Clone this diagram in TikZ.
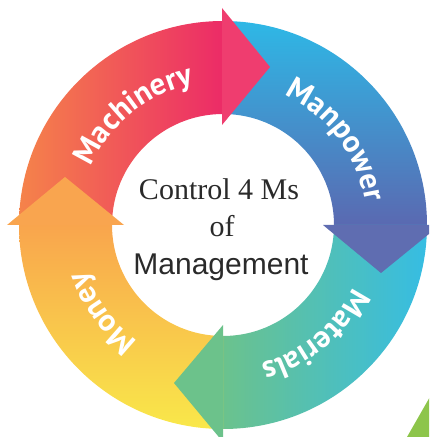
\documentclass[tikz,border=0pt]{standalone}
\usepackage{fontspec}
\setmainfont{Liberation Serif}
\newfontfamily\mgmtfont{Liberation Sans}
\newfontfamily\labfont{PT Sans}
\newcommand\labfmt{\labfont\bfseries\fontsize{31}{31}\selectfont}
\usetikzlibrary{decorations.text,calc}
\definecolor{machA}{HTML}{F5834A}
\definecolor{machB}{HTML}{EC2B67}
\definecolor{machH}{HTML}{EF3D6F}
\definecolor{manA}{HTML}{2EB8E6}
\definecolor{manB}{HTML}{5A69B1}
\definecolor{manH}{HTML}{5F6DB1}
\definecolor{matA}{HTML}{6BC28D}
\definecolor{matB}{HTML}{36BDE3}
\definecolor{matH}{HTML}{6CC28B}
\definecolor{monA}{HTML}{F9A54D}
\definecolor{monB}{HTML}{F9E84A}
\definecolor{monH}{HTML}{F9A54F}
\definecolor{leaf}{HTML}{8DC54B}
\definecolor{ink}{HTML}{2A2A2A}
\tikzset{
  ringlabel/.style={decorate, decoration={text along path, text align=center, text color=white,
    text={|\labfmt|#1}}},
}
\begin{document}
\begin{tikzpicture}[x=1pt,y=1pt]
\useasboundingbox (0,0) rectangle (429,437);
\clip (0,0) rectangle (429,437);
\coordinate (C) at (223,212);
% quarter rings
\shade[left color=machA, right color=machB]
  (19,212) arc[start angle=180, end angle=90, radius=204] -- (223,323)
  arc[start angle=90, end angle=180, radius=111] -- cycle;
\shade[top color=manA, bottom color=manB]
  (223,416) arc[start angle=90, end angle=0, radius=204] -- (334,212)
  arc[start angle=0, end angle=90, radius=111] -- cycle;
\shade[left color=matA, right color=matB]
  (427,212) arc[start angle=0, end angle=-90, radius=204] -- (223,101)
  arc[start angle=-90, end angle=0, radius=111] -- cycle;
\shade[top color=monA, bottom color=monB]
  (223,8) arc[start angle=270, end angle=180, radius=204] -- (112,212)
  arc[start angle=180, end angle=270, radius=111] -- cycle;
% arrow heads
\fill[machH] (222,312) -- (222,429) -- (270,370) -- cycle;
\fill[manH] (323,212) -- (440,212) -- (381,164) -- cycle;
\fill[matH] (223,112) -- (223,-5) -- (174,54) -- cycle;
\fill[monH] (124,212) -- (7,212) -- (65,260) -- cycle;
% corner leaf
\fill[leaf] (407,0) -- (431,0) -- (431,42) -- cycle;
% ring labels
\path[ringlabel=Machinery] ($(C)+(175:144)$) arc[start angle=175, end angle=83, radius=144];
\path[ringlabel=Manpower] ($(C)+(83:144)$) arc[start angle=83, end angle=-9, radius=144];
\path[ringlabel=Materials] ($(C)+(-4:144)$) arc[start angle=-4, end angle=-96, radius=144];
\path[ringlabel=Money] ($(C)+(262:144)$) arc[start angle=262, end angle=170, radius=144];
% centre text
\node[anchor=base, text=ink, font=\fontsize{30}{30}\selectfont, inner sep=0] (t1) at (219,237) {Control 4 Ms};
\node[anchor=base, text=ink, font=\fontsize{30}{30}\selectfont, inner sep=0] (t2) at (222,200) {of};
\node[anchor=base, text=ink, font=\mgmtfont\fontsize{30}{30}\selectfont, inner sep=0] (t3) at (221,162) {Management};
\end{tikzpicture}
\end{document}
